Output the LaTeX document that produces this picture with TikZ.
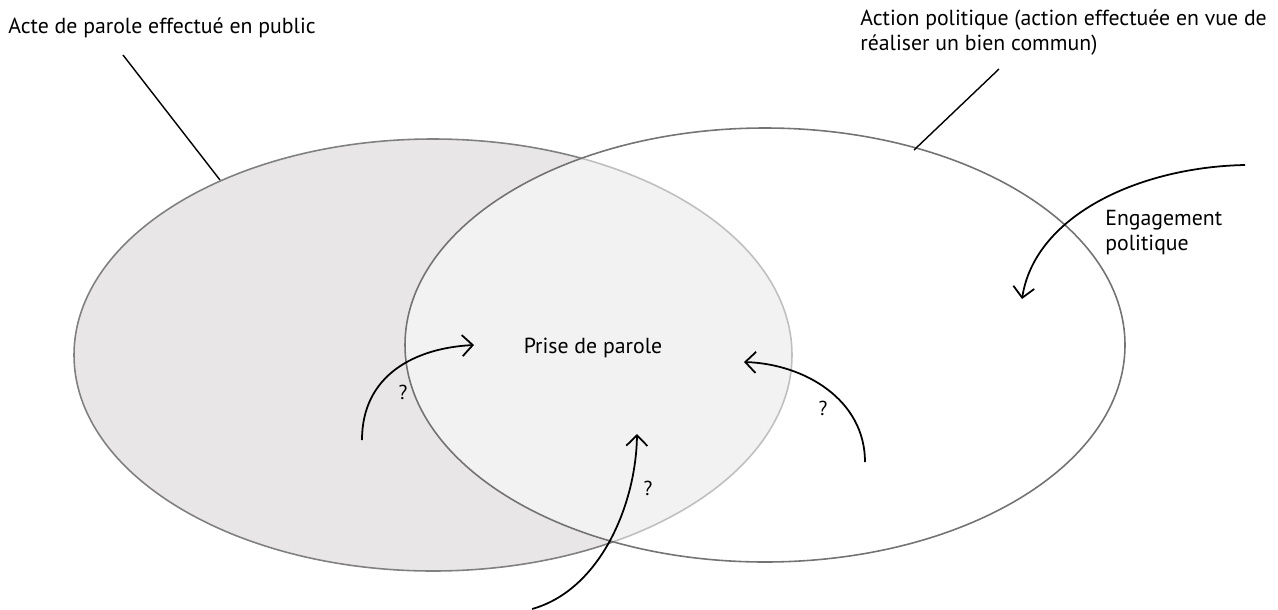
\documentclass[tikz,border=0pt]{standalone}
\usepackage{fontspec}
\setmainfont{PT Sans}
\usetikzlibrary{arrows.meta}

\definecolor{setgray}{RGB}{232,230,231}
\tikzset{
  lbl/.style={font=\fontsize{12.4}{14.2}\selectfont, inner sep=0pt, align=left},
  qm/.style={font=\fontsize{11.5}{13}\selectfont, inner sep=0pt},
  flow/.style={line width=1pt, -{Straight Barb[length=6pt,width=12pt,line width=1pt]}},
  rim/.style={line width=.9pt, draw=black!50},
}

\begin{document}
\begin{tikzpicture}[x=.02cm,y=-.02cm]
	\useasboundingbox (0,0) rectangle (1278,609);
	% the two sets
	\fill[setgray] (433,355) ellipse [x radius=359, y radius=216];
	\draw[rim] (433,355) ellipse [x radius=359, y radius=216];
	\fill[white,fill opacity=.5] (765,345) ellipse [x radius=360, y radius=217];
	\draw[rim,draw=black!55] (765,345) ellipse [x radius=360, y radius=217];

	% labels (base of a two-line label = its last line)
	\node[lbl,anchor=base west] (acte) at (8,33) {Acte de parole effectué en public};
	\node[lbl,anchor=base west] (action) at (860,50) {Action politique (action effectuée en vue de\\réaliser un bien commun)};
	\node[lbl,anchor=base west] (engag) at (1105,250) {Engagement\\politique};
	\node[lbl,anchor=base] (prise) at (593,353) {Prise de parole};

	\coordinate (acteEnd) at (220,180);
	\coordinate (acteTop) at (123,55);
	\coordinate (actionEnd) at (914,150);
	\coordinate (actionTop) at (999,69);
	\draw[line width=.8pt] (acteTop) -- (acteEnd);
	\draw[line width=.8pt] (actionTop) -- (actionEnd);

	% arrows
	\coordinate (a1) at (362,440);
	\coordinate (b1) at (474,345);
	\coordinate (a2) at (865,462);
	\coordinate (b2) at (744,362);
	\coordinate (a3) at (532,609);
	\coordinate (b3) at (637,434);
	\coordinate (a4) at (1245,165);
	\coordinate (b4) at (1022,299);
	\draw[flow] (a1) .. controls (362,375) and (415,348) .. (b1);
	\draw[flow] (a2) .. controls (865,400) and (805,364) .. (b2);
	\draw[flow] (a3) .. controls (600,590) and (636,505) .. (b3);
	\draw[flow] (a4) .. controls (1140,167) and (1035,215) .. (b4);

	\node[qm] (q1) at (403,392) {?};
	\node[qm] (q2) at (823,408) {?};
	\node[qm] (q3) at (648,488) {?};
\end{tikzpicture}
\end{document}
